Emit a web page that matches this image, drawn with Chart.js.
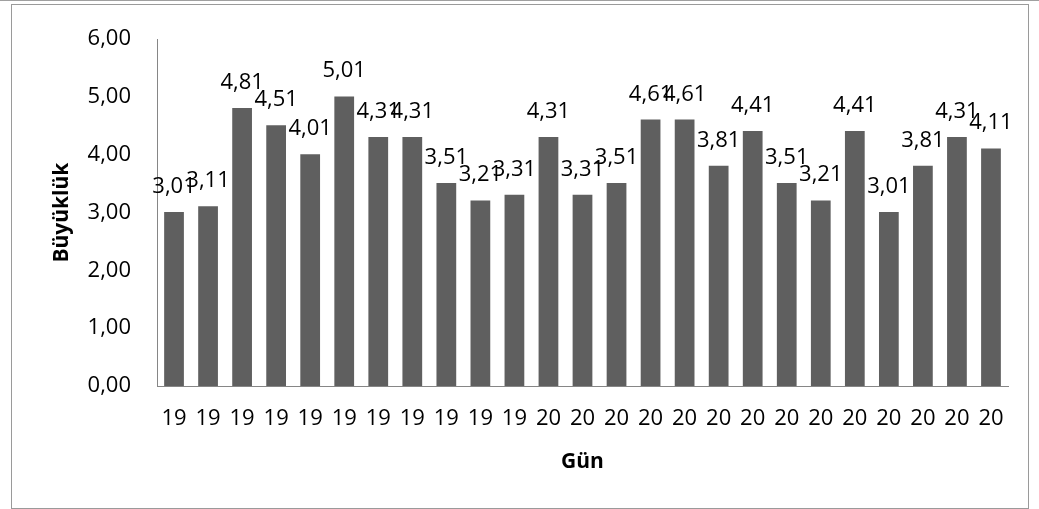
<!DOCTYPE html>
<html lang="tr">
<head>
<meta charset="utf-8">
<title>Büyüklük / Gün</title>
<script src="https://cdn.jsdelivr.net/npm/chart.js@4/dist/chart.umd.min.js"></script>
<style>
  html, body { margin: 0; padding: 0; background: #ffffff; overflow: hidden; }
  #wrap { position: relative; width: 1039px; height: 509px; }
  #outer { position: absolute; left: 0; top: 0; width: 1039px; height: 2px; border-top: 1px solid #a0a0a0; }
  #frame { position: absolute; left: 11px; top: 4px; width: 1016px; height: 503px; border: 1px solid #9a9a9a; box-sizing: content-box; }
  canvas { position: absolute; left: 0; top: 0; }
</style>
</head>
<body>
<div id="wrap">
  <div id="outer"></div>
  <div id="frame"></div>
  <canvas id="chart" width="1039" height="509"></canvas>
</div>
<script>
// Day labels along the category axis
const days = [
  '19', '19', '19', '19', '19', '19', '19', '19', '19', '19', '19',
  '20', '20', '20', '20', '20', '20', '20', '20', '20', '20', '20', '20', '20', '20'
];

// Magnitude for each record
const magnitudes = [
  3.01, 3.11, 4.81, 4.51, 4.01, 5.01, 4.31, 4.31, 3.51, 3.21, 3.31,
  4.31, 3.31, 3.51, 4.61, 4.61, 3.81, 4.41, 3.51, 3.21, 4.41, 3.01, 3.81, 4.31, 4.11
];

// Value axis ticks
const yTicks = [0, 1, 2, 3, 4, 5, 6];

const yTitle = 'Büyüklük';
const xTitle = 'Gün';

const FONT = '"Open Sans"';
const comma = v => v.toFixed(2).replace('.', ',');

// Writes each bar's value centred above it
const valueLabels = {
  id: 'valueLabels',
  afterDatasetsDraw(chart) {
    const ctx = chart.ctx;
    const meta = chart.getDatasetMeta(0);
    const data = chart.data.datasets[0].data;
    ctx.save();
    ctx.font = '22px ' + FONT;
    ctx.fillStyle = '#000000';
    ctx.textAlign = 'center';
    ctx.textBaseline = 'alphabetic';
    meta.data.forEach((bar, i) => {
      ctx.fillText(comma(data[i]), bar.x, bar.y - 19);
    });
    ctx.restore();
  }
};

new Chart(document.getElementById('chart'), {
  type: 'bar',
  data: {
    labels: days,
    datasets: [{
      data: magnitudes,
      backgroundColor: '#5f5f5f',
      borderWidth: 0,
      categoryPercentage: 0.58,
      barPercentage: 1.0
    }]
  },
  options: {
    responsive: false,
    animation: false,
    devicePixelRatio: 1,
    layout: { padding: { top: 35, right: 31, left: 0, bottom: 0 } },
    plugins: {
      legend: { display: false },
      tooltip: { enabled: false }
    },
    scales: {
      x: {
        grid: { display: false, drawTicks: false },
        border: { display: true, color: '#868686', width: 1 },
        ticks: {
          color: '#000000',
          font: { family: FONT, size: 22 },
          padding: 20,
          maxRotation: 0,
          autoSkip: false
        },
        title: {
          display: true,
          text: xTitle,
          color: '#000000',
          font: { family: FONT, size: 21, weight: 'bold' },
          padding: { top: 0, bottom: 34 }
        },
        afterFit(scale) { scale.height = 123; }
      },
      y: {
        min: 0,
        max: 6,
        afterBuildTicks(scale) { scale.ticks = yTicks.map(v => ({ value: v })); },
        grid: { display: false, drawTicks: false },
        border: { display: true, color: '#868686', width: 1 },
        ticks: {
          color: '#000000',
          font: { family: FONT, size: 22 },
          padding: 26,
          callback: v => comma(v)
        },
        title: {
          display: true,
          text: yTitle,
          color: '#000000',
          font: { family: FONT, size: 21, weight: 'bold' },
          padding: { top: 49, bottom: 0 }
        },
        afterFit(scale) { scale.width = 157; }
      }
    }
  },
  plugins: [valueLabels]
});
</script>
</body>
</html>
